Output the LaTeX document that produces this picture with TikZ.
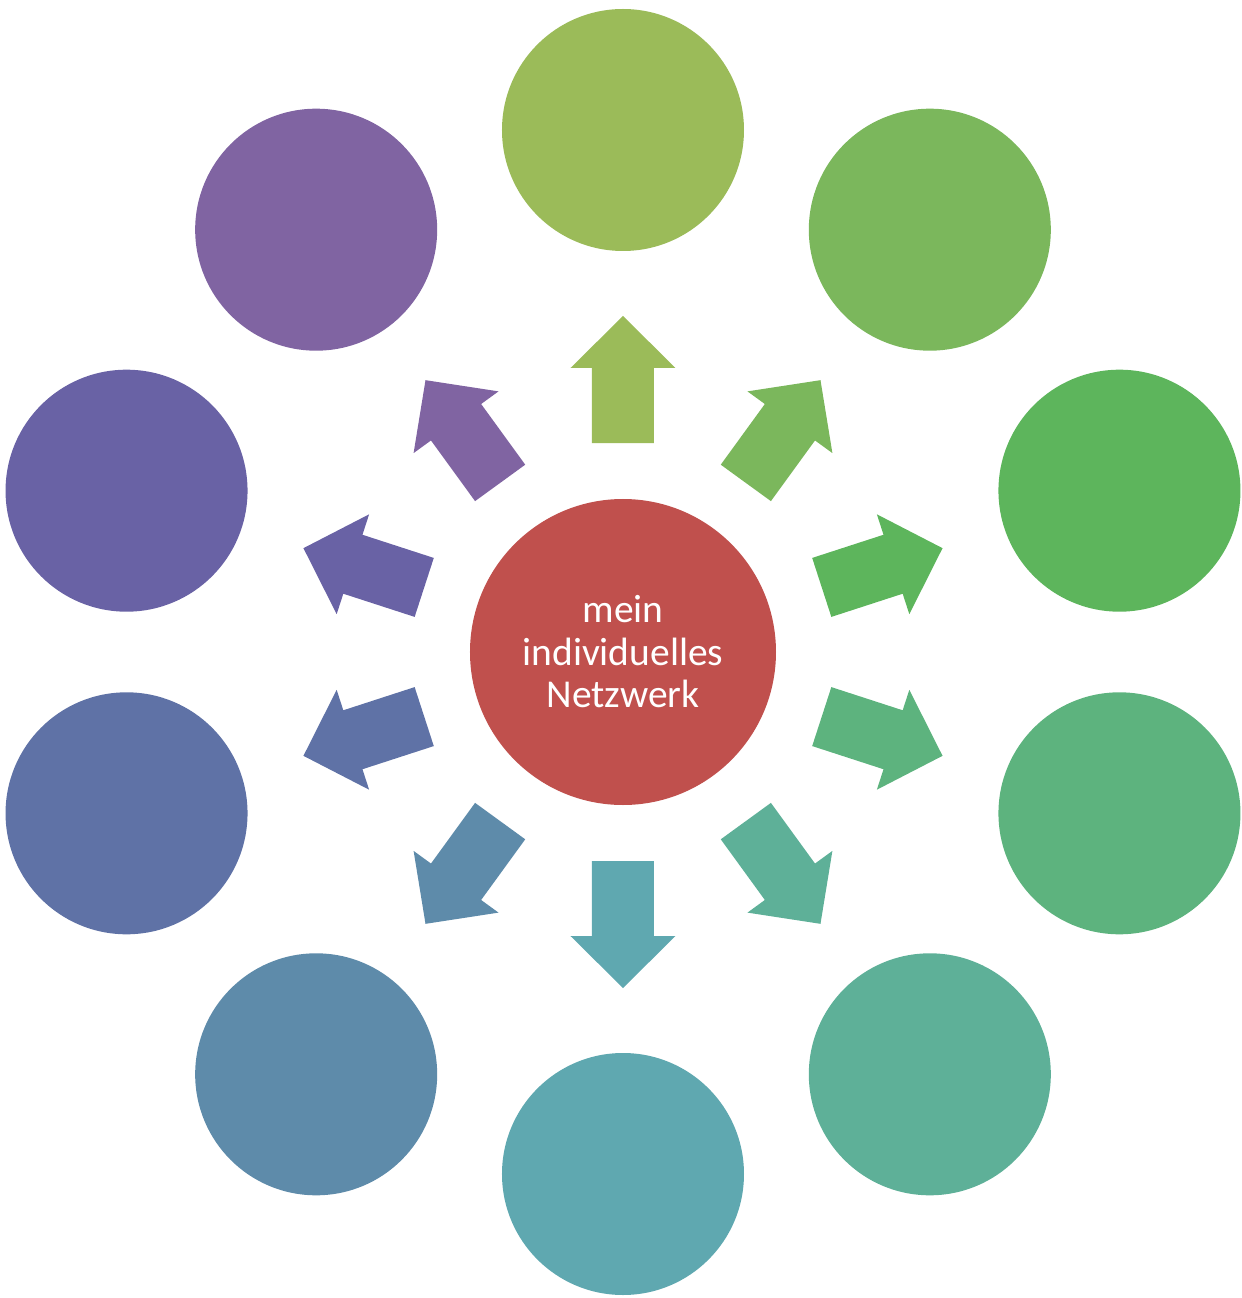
\documentclass[tikz,border=0pt]{standalone}
\usepackage{fontspec}
\setmainfont{Carlito}
\definecolor{cA}{RGB}{155,187,89}
\definecolor{cB}{RGB}{123,183,92}
\definecolor{cC}{RGB}{93,181,92}
\definecolor{cD}{RGB}{93,179,126}
\definecolor{cE}{RGB}{94,176,152}
\definecolor{cF}{RGB}{95,168,176}
\definecolor{cG}{RGB}{94,139,170}
\definecolor{cH}{RGB}{95,114,166}
\definecolor{cI}{RGB}{105,98,165}
\definecolor{cJ}{RGB}{128,100,162}
\definecolor{cCenter}{RGB}{192,80,77}
\tikzset{
  outer/.style={circle, minimum size=242bp, inner sep=0pt, draw=none},
}
\begin{document}
\begin{tikzpicture}[x=1bp,y=1bp]
\useasboundingbox (-623,-646) rectangle (619,652);
\node[circle, fill=cCenter, minimum size=306bp, inner sep=0pt, text=white, align=center,
      font=\fontsize{39.5bp}{42.5bp}\selectfont] (center) at (0,0) {mein\\individuelles\\Netzwerk};
\foreach \ang/\col/\nm in {90/cA/n1,54/cB/n2,18/cC/n3,-18/cD/n4,-54/cE/n5,-90/cF/n6,-126/cG/n7,-162/cH/n8,162/cI/n9,126/cJ/n10}{
  \node[outer, fill=\col] (\nm) at (\ang:522) {};
  \fill[\col, rotate=\ang] (209,-31) -- (284,-31) -- (284,-52.5) -- (336,0) -- (284,52.5) -- (284,31) -- (209,31) -- cycle;
}
\end{tikzpicture}
\end{document}
